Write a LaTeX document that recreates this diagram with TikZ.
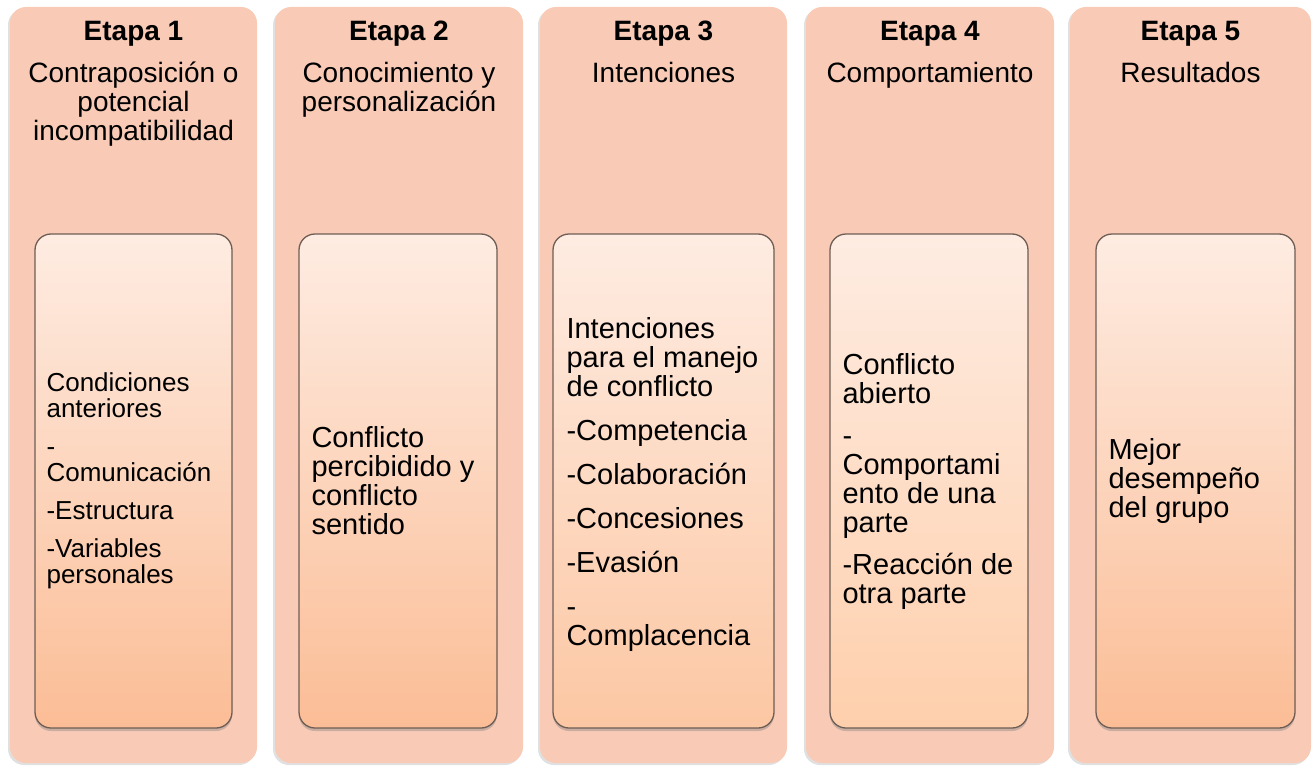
\documentclass[tikz,border=0pt]{standalone}
\usepackage{fontspec}
\setmainfont{Liberation Sans}
\usetikzlibrary{positioning,shadows}
\definecolor{outerfill}{HTML}{F9CBB6}
\definecolor{innertop}{HTML}{FEECE2}
\definecolor{innerbot1}{HTML}{FBBD96}
\definecolor{innerbot3}{HTML}{FCC7A3}
\definecolor{innerbot4}{HTML}{FECFAC}
\definecolor{innerline}{HTML}{6E5D54}
\tikzset{
  colbox/.style={fill=outerfill, rounded corners=16pt, minimum height=756pt, inner sep=0pt,
    drop shadow={shadow xshift=-2pt, shadow yshift=-2pt, opacity=0.4, fill=gray!60}},
  innerbox/.style={draw=innerline, line width=1.3pt, rounded corners=16pt, top color=innertop, bottom color=#1,
    minimum height=494pt, inner sep=0pt,
    drop shadow={shadow xshift=0pt, shadow yshift=-3pt, opacity=0.4}},
  heading/.style={anchor=north, align=center, inner sep=0pt, font=\fontsize{28}{29}\selectfont},
  bodytext/.style={anchor=west, align=left, inner sep=0pt, font=\fontsize{29}{29}\selectfont},
}
\begin{document}
\begin{tikzpicture}[x=1pt,y=-1pt]
    \useasboundingbox (0,0) rectangle (1316,765);
    % columns
    \node[colbox, minimum width=247pt] (c1) at (133.5,385) {};
    \node[colbox, minimum width=248pt] (c2) at (399,385) {};
    \node[colbox, minimum width=247pt] (c3) at (663.5,385) {};
    \node[colbox, minimum width=248pt] (c4) at (930,385) {};
    \node[colbox, minimum width=241pt] (c5) at (1190.5,385) {};
    % headings
    \node[heading, below=14pt of c1.north] (h1) {\textbf{Etapa 1}\\[13pt]Contraposición o\\potencial\\incompatibilidad};
    \node[heading, below=14pt of c2.north] (h2) {\textbf{Etapa 2}\\[13pt]Conocimiento y\\personalización};
    \node[heading, below=14pt of c3.north] (h3) {\textbf{Etapa 3}\\[13pt]Intenciones};
    \node[heading, below=14pt of c4.north] (h4) {\textbf{Etapa 4}\\[13pt]Comportamiento};
    \node[heading, below=14pt of c5.north] (h5) {\textbf{Etapa 5}\\[13pt]Resultados};
    % inner boxes
    \node[innerbox=innerbot1, minimum width=197pt] (i1) at (133.5,481) {};
    \node[innerbox=innerbot1, minimum width=198pt] (i2) at (398,481) {};
    \node[innerbox=innerbot3, minimum width=221pt] (i3) at (663.5,481) {};
    \node[innerbox=innerbot4, minimum width=198pt] (i4) at (929,481) {};
    \node[innerbox=innerbot1, minimum width=199pt] (i5) at (1195.5,481) {};
    % texts
    \node[bodytext, font=\fontsize{26}{26}\selectfont, right=12pt of i1.west] (b1)
      {Condiciones\\anteriores\\[12pt]-\\Comunicación\\[12pt]-Estructura\\[12pt]-Variables\\personales};
    \node[bodytext, right=13pt of i2.west] (b2)
      {Conflicto\\percibidido y\\conflicto\\sentido};
    \node[bodytext, right=14pt of i3.west, yshift=-3pt] (b3)
      {Intenciones\\para el manejo\\de conflicto\\[15pt]-Competencia\\[15pt]-Colaboración\\[15pt]-Concesiones\\[15pt]-Evasión\\[15pt]-\\Complacencia};
    \node[bodytext, right=13pt of i4.west] (b4)
      {Conflicto\\abierto\\[13pt]-\\Comportami\\ento de una\\parte\\[13pt]-Reacción de\\otra parte};
    \node[bodytext, right=13pt of i5.west] (b5)
      {Mejor\\desempeño\\del grupo};
\end{tikzpicture}
\end{document}
